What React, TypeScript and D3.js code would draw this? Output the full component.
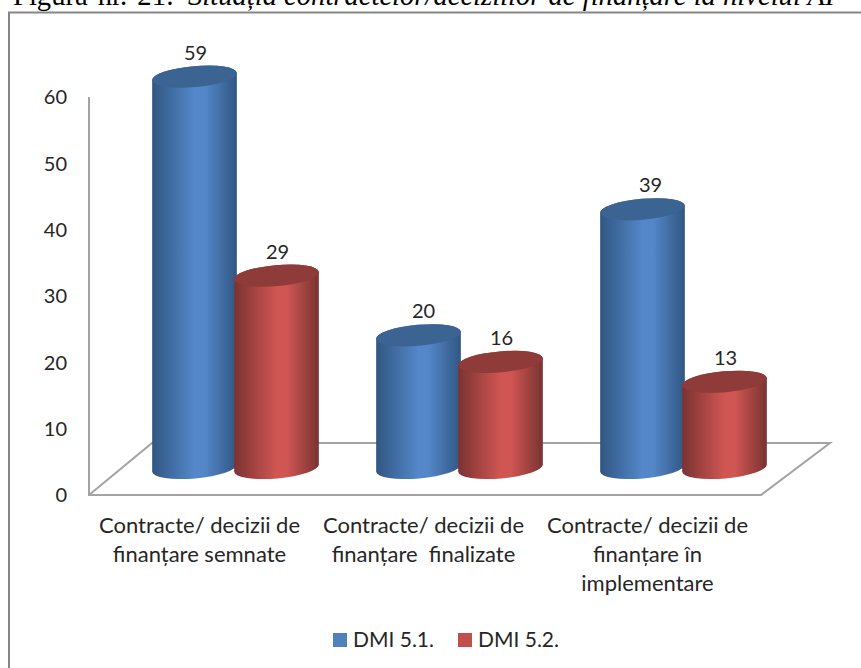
import React, { useEffect, useRef } from 'react';
import * as d3 from 'd3';

const categories = [
  ['Contracte/ decizii de', 'finanțare semnate'],
  ['Contracte/ decizii de', 'finanțare  finalizate'],
  ['Contracte/ decizii de', 'finanțare în', 'implementare'],
];
const seriesNames = ['DMI 5.1.', 'DMI 5.2.'];
const dmi51 = [59, 20, 39];
const dmi52 = [29, 16, 13];
const yTicks = [0, 10, 20, 30, 40, 50, 60];
const titleStart = 'Figura nr. 21:';
const titleRest = 'Situația contractelor/deciziilor de finanțare la nivelul AI';

const palette = [
  { id: 'blue', edge: '#315682', mid: '#5387c9', top: '#3c6493', swatch: '#4f81bd' },
  { id: 'red', edge: '#7a3331', mid: '#cf5653', top: '#8f3b39', swatch: '#c0504d' },
];

// the value labels were moved by hand in the original chart
const labelNudge = [
  [1, 5, 8],
  [1, 1, 1],
];

const App = () => {
  const svgRef = useRef<SVGSVGElement>(null);

  useEffect(() => {
    const svg = d3.select(svgRef.current);
    svg.selectAll('*').remove();

    const font = 'Lato, sans-serif';
    const textColor = '#262626';
    const lineColor = '#a3a3a3';

    // floor of the 3d box
    const depth = { x: 63, y: 52 };
    const plot = { left: 89, right: 761, top: 97, bottom: 495 };

    const y = d3.scaleLinear().domain([0, 60]).range([plot.bottom, plot.top]);
    const x0 = d3
      .scalePoint<number>()
      .domain(categories.map((_, i) => i))
      .range([235.5, 683.5]);
    const x1 = d3.scalePoint<number>().domain([0, 1]).range([-41, 41]);

    const defs = svg.append('defs');
    palette.forEach((p) => {
      const g = defs.append('linearGradient').attr('id', `cyl-${p.id}`);
      g.append('stop').attr('offset', '0%').attr('stop-color', p.edge);
      g.append('stop').attr('offset', '50%').attr('stop-color', p.mid);
      g.append('stop').attr('offset', '62%').attr('stop-color', p.mid);
      g.append('stop').attr('offset', '100%').attr('stop-color', p.edge);
    });

    // title, cut by the top of the page
    const titleFont = '"Liberation Serif", serif';
    svg
      .append('text')
      .attr('x', 13)
      .attr('y', 5)
      .attr('font-family', titleFont)
      .attr('font-size', 28.6)
      .attr('word-spacing', 3)
      .attr('fill', '#000')
      .text(titleStart);
    svg
      .append('text')
      .attr('x', 188)
      .attr('y', 5)
      .attr('font-family', titleFont)
      .attr('font-size', 28.6)
      .attr('font-style', 'italic')
      .attr('fill', '#000')
      .text(titleRest);

    // chart frame
    svg
      .append('rect')
      .attr('x', 9)
      .attr('y', 12.5)
      .attr('width', 900)
      .attr('height', 700)
      .attr('fill', '#fff')
      .attr('stroke', '#868686')
      .attr('stroke-width', 2);

    // floor and walls
    const line = d3.line();
    svg
      .append('path')
      .attr(
        'd',
        line([
          [plot.left, y(60)],
          [plot.left, y(0)],
          [plot.right, y(0)],
          [plot.right + depth.x + 6, y(0) - depth.y],
          [plot.left + depth.x, y(0) - depth.y],
          [plot.left, y(0)],
        ]),
      )
      .attr('fill', 'none')
      .attr('stroke', lineColor)
      .attr('stroke-width', 2);

    // y axis, labels only
    const axis = svg
      .append('g')
      .attr('transform', `translate(${plot.left},0)`)
      .call(d3.axisLeft(y).tickValues(yTicks).tickSize(0).tickPadding(22));
    axis.select('.domain').remove();
    axis
      .selectAll('text')
      .attr('dy', '0.34em')
      .attr('font-family', font)
      .attr('font-size', 20)
      .attr('fill', textColor);

    // cylinders
    const rx = 42.5;
    const ry = 10.5;
    const tilt = -5;
    const baseLift = 27;
    const dx = rx * Math.cos((tilt * Math.PI) / 180);
    const dy = rx * Math.sin((tilt * Math.PI) / 180);

    [dmi51, dmi52].forEach((values, s) => {
      values.forEach((v, i) => {
        const cx = (x0(i) as number) + (x1(s) as number);
        const top = y(v) - baseLift;
        const base = y(0) - baseLift;
        const g = svg.append('g');
        g.append('path')
          .attr(
            'd',
            `M${cx - dx},${top - dy}L${cx - dx},${base - dy}` +
              `A${rx},${ry} ${tilt} 0 0 ${cx + dx},${base + dy}` +
              `L${cx + dx},${top + dy}` +
              `A${rx},${ry} ${tilt} 0 0 ${cx - dx},${top - dy}Z`,
          )
          .attr('fill', `url(#cyl-${palette[s].id})`);
        g.append('ellipse')
          .attr('cx', cx)
          .attr('cy', top)
          .attr('rx', rx)
          .attr('ry', ry)
          .attr('transform', `rotate(${tilt} ${cx} ${top})`)
          .attr('fill', palette[s].top);
        g.append('text')
          .attr('x', cx + labelNudge[s][i])
          .attr('y', top - 17)
          .attr('text-anchor', 'middle')
          .attr('font-family', font)
          .attr('font-size', 20)
          .attr('fill', textColor)
          .text(v);
      });
    });

    // category labels
    categories.forEach((lines, i) => {
      const t = svg
        .append('text')
        .attr('text-anchor', 'middle')
        .attr('font-family', font)
        .attr('font-size', 22)
        .attr('fill', textColor)
        .attr('xml:space', 'preserve');
      lines.forEach((l, k) => {
        t.append('tspan')
          .attr('x', (x0(i) as number) - 36)
          .attr('y', 533 + k * 29)
          .text(l);
      });
    });

    // legend
    const legendX = d3.scalePoint<number>().domain([0, 1]).range([333, 458]);
    seriesNames.forEach((name, s) => {
      const lx = legendX(s) as number;
      svg
        .append('rect')
        .attr('x', lx)
        .attr('y', 633)
        .attr('width', 14)
        .attr('height', 14)
        .attr('fill', palette[s].swatch);
      svg
        .append('text')
        .attr('x', lx + 20)
        .attr('y', 647)
        .attr('font-family', font)
        .attr('font-size', 21)
        .attr('fill', textColor)
        .text(name);
    });
  }, []);

  return (
    <svg
      ref={svgRef}
      width={861}
      height={668}
      style={{ position: 'absolute', left: 0, top: 0, background: '#fff' }}
    />
  );
};

export default App;
